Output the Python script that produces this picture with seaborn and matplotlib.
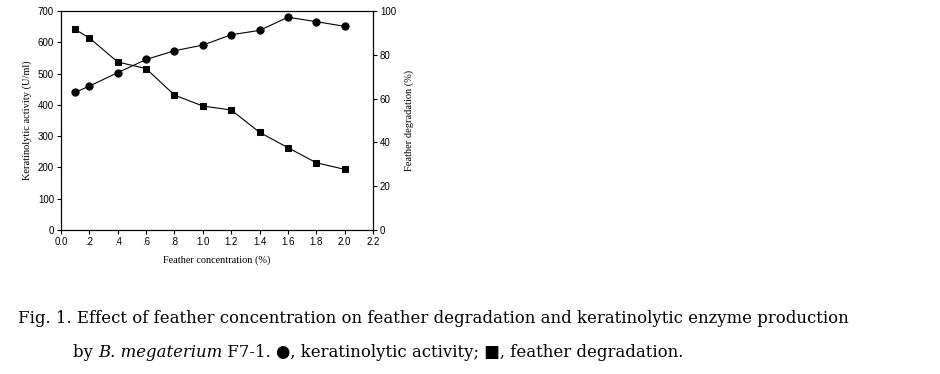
import numpy as np
import pandas as pd
import matplotlib
matplotlib.use("Agg")
import matplotlib.pyplot as plt
import seaborn as sns

# values
concentration = [0.1, 0.2, 0.4, 0.6, 0.8, 1.0, 1.2, 1.4, 1.6, 1.8, 2.0]
keratinolytic = [440, 460, 503, 545, 573, 591, 624, 638, 680, 666, 651]
degradation = [91.6, 87.7, 76.7, 73.7, 61.6, 56.6, 54.8, 44.6, 37.6, 30.7, 27.7]
xtick_labels = ["0.0", ".2", ".4", ".6", ".8", "1.0", "1.2", "1.4", "1.6", "1.8", "2.0", "2.2"]

df = pd.DataFrame({"conc": concentration, "activity": keratinolytic, "degr": degradation})

sns.set_style("ticks")
plt.rcParams["font.family"] = ["Liberation Sans", "DejaVu Sans"]
plt.rcParams.update({"text.color": "black", "axes.labelcolor": "black",
                     "xtick.color": "black", "ytick.color": "black"})

fig = plt.figure(figsize=(9.4, 3.74), dpi=100)
ax = fig.add_axes([61 / 940, 1 - 230 / 374, 312 / 940, 219 / 374])
ax2 = ax.twinx()

sns.lineplot(data=df, x="conc", y="activity", ax=ax, color="black", marker="o",
             markersize=5.2, markeredgecolor="black", linewidth=0.8)
sns.lineplot(data=df, x="conc", y="degr", ax=ax2, color="black", marker="s",
             markersize=5, markeredgecolor="black", linewidth=0.8)

ax.set_xlim(0, 2.2)
ax.set_ylim(0, 700)
ax2.set_ylim(0, 100)
ax.set_xticks(np.arange(0, 2.21, 0.2))
ax.set_xticklabels(xtick_labels)
ax.set_yticks(range(0, 701, 100))
ax2.set_yticks(range(0, 101, 20))

for a in (ax, ax2):
    a.tick_params(direction="out", length=3, width=0.8, labelsize=7, pad=2)
    for s in a.spines.values():
        s.set_linewidth(0.8)
        s.set_color("black")

ax.set_xlabel("Feather concentration (%)", family="Liberation Serif", fontsize=7.4, labelpad=6)
ax.set_ylabel("Keratinolytic activity (U/ml)", family="Liberation Serif", fontsize=7.5, labelpad=4)
ax2.set_ylabel("Feather degradation (%)", family="Liberation Serif", fontsize=7.5, labelpad=6)

# caption below the plot
cap = ["DejaVu Serif"]
fs = 11.9
fig.text(18 / 940, 1 - 323 / 374,
         "Fig. 1. Effect of feather concentration on feather degradation and keratinolytic enzyme production",
         family=cap, fontsize=fs, va="baseline")
prev = fig.text(73 / 940, 1 - 357 / 374, "by ", family=cap, fontsize=fs, va="baseline")
parts = [("B. megaterium", "italic"),
         (" F7-1. ●, keratinolytic activity; ■, feather degradation.", "normal")]
for txt, st in parts:
    prev = ax.annotate(txt, xy=(1, 0), xycoords=prev, xytext=(0, 0), textcoords="offset points",
                       family=cap, fontsize=fs, style=st, va="bottom", ha="left",
                       annotation_clip=False)

fig.savefig("out.png", dpi=100)
